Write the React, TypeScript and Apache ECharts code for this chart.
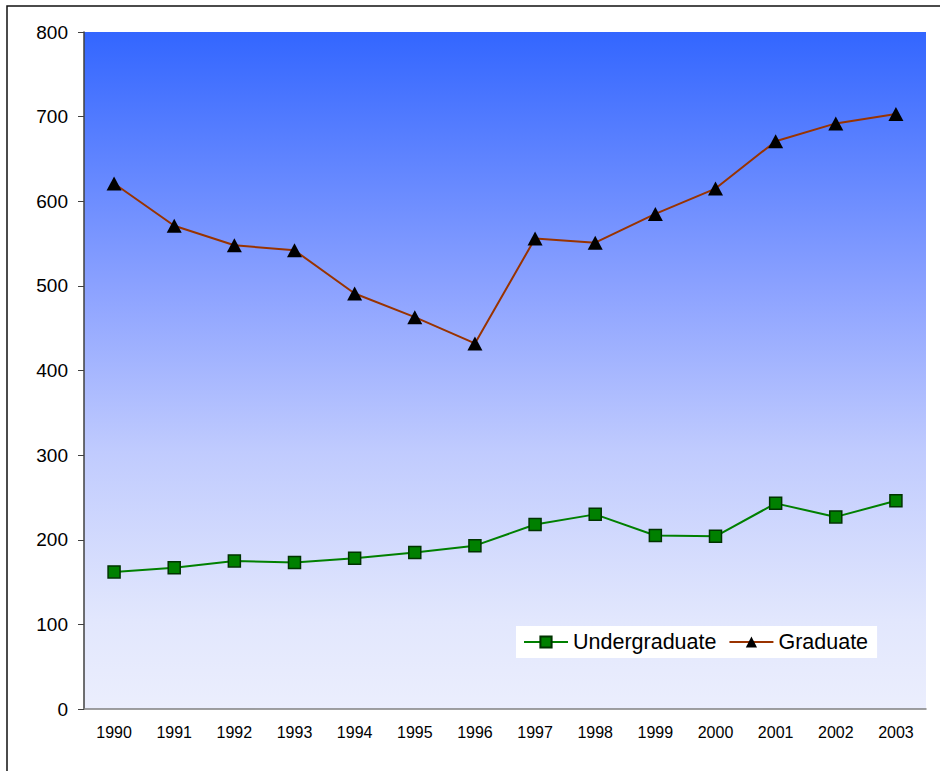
import React, { useEffect, useRef } from "react";
import * as echarts from "echarts";

const years = ["1990", "1991", "1992", "1993", "1994", "1995", "1996", "1997", "1998", "1999", "2000", "2001", "2002", "2003"];
const undergraduate = [162, 167, 175, 173, 178, 185, 193, 218, 230, 205, 204, 243, 227, 246];
const graduate = [621, 571, 548, 542, 491, 463, 432, 556, 551, 585, 615, 671, 692, 703];

const FONT = '"Liberation Sans", Arial, sans-serif';

export default function App() {
  const ref = useRef<HTMLDivElement>(null);
  useEffect(() => {
    if (!ref.current) return;
    const chart = echarts.init(ref.current, null, { renderer: "svg" });
    chart.setOption({
      animation: false,
      backgroundColor: "#ffffff",
      textStyle: { fontFamily: FONT },
      graphic: [
        {
          type: "rect",
          silent: true,
          shape: { x: 7, y: 6, width: 1000, height: 1000 },
          style: { fill: "none", stroke: "#111", lineWidth: 1.5 },
        },
      ],
      grid: {
        left: 84,
        top: 32,
        width: 842,
        height: 677,
        show: true,
        borderWidth: 0,
        backgroundColor: new echarts.graphic.LinearGradient(0, 0, 0, 1, [
          { offset: 0, color: "#3366FF" },
          { offset: 0.38, color: "#8CA2FF" },
          { offset: 0.62, color: "#C0CBFE" },
          { offset: 0.87, color: "#E2E7FD" },
          { offset: 1, color: "#EBEEFD" },
        ]),
      },
      legend: {
        left: 516,
        top: 626,
        padding: [5, 9, 5, 7],
        backgroundColor: "#ffffff",
        itemWidth: 44,
        itemHeight: 14,
        itemGap: 12,
        textStyle: { fontFamily: FONT, fontSize: 21.5, color: "#000" },
        data: ["Undergraduate", "Graduate"],
      },
      xAxis: {
        type: "category",
        data: years,
        boundaryGap: true,
        axisLine: { show: true, lineStyle: { color: "#808080", width: 1.5 } },
        axisTick: { show: false },
        axisLabel: { fontFamily: FONT, fontSize: 16, color: "#000", margin: 15, interval: 0 },
        splitLine: { show: false },
      },
      yAxis: {
        type: "value",
        min: 0,
        max: 800,
        interval: 100,
        axisLine: { show: true, lineStyle: { color: "#404040", width: 1.5 } },
        axisTick: { show: true, length: 6, lineStyle: { color: "#404040" } },
        axisLabel: { fontFamily: FONT, fontSize: 19, color: "#000", margin: 16 },
        splitLine: { show: false },
      },
      series: [
        {
          name: "Undergraduate",
          type: "line",
          data: undergraduate,
          symbol: "rect",
          symbolSize: 12,
          lineStyle: { color: "#008000", width: 2 },
          itemStyle: { color: "#008000", borderColor: "#003300", borderWidth: 1.5 },
        },
        {
          name: "Graduate",
          type: "line",
          data: graduate,
          symbol: "triangle",
          symbolSize: [15, 14],
          lineStyle: { color: "#993300", width: 2 },
          itemStyle: { color: "#000000", borderColor: "#000000", borderWidth: 0 },
        },
      ],
    });
    return () => chart.dispose();
  }, []);
  return (
    <div
      ref={ref}
      style={{ position: "absolute", left: 0, top: 0, width: 940, height: 771 }}
    />
  );
}
